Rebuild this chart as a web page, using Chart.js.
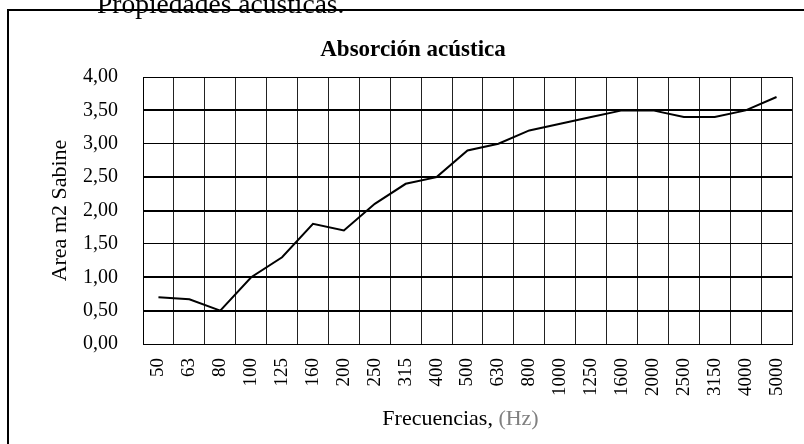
<!DOCTYPE html>
<html>
<head>
<meta charset="utf-8">
<script src="https://cdn.jsdelivr.net/npm/chart.js@4.4.1/dist/chart.umd.min.js"></script>
<style>
  html, body { margin: 0; padding: 0; background: #fff; overflow: hidden; }
  body { width: 804px; height: 444px; position: relative; }
  #frame { position: absolute; left: 7px; top: 9px; width: 900px; height: 500px; border: 2px solid #000; }
  #caption { position: absolute; left: 97px; top: -12px; font: 27.5px "Liberation Serif", serif; color: #000; white-space: nowrap; z-index: 2; }
  #chartBox { position: absolute; left: 9px; top: 11px; width: 808px; height: 433px; }
</style>
</head>
<body>
<div id="frame"></div>
<div id="caption">Propiedades acústicas.</div>
<div id="chartBox"><canvas id="absorcion" width="808" height="433"></canvas></div>
<script>
// frecuencias en Hz (bandas de tercio de octava)
const frecuencias = ["50", "63", "80", "100", "125", "160", "200", "250", "315", "400", "500",
    "630", "800", "1000", "1250", "1600", "2000", "2500", "3150", "4000", "5000"];
// area de absorcion equivalente, m2 Sabine
const areaSabine = [0.70, 0.67, 0.50, 1.00, 1.30, 1.80, 1.70, 2.10, 2.40, 2.50, 2.90,
    3.00, 3.20, 3.30, 3.40, 3.50, 3.50, 3.40, 3.40, 3.50, 3.70];
// lineas horizontales que salen mas gruesas en el original
const lineasGruesas = [0.5, 1.0, 2.0, 2.5, 3.5];

const serif = "'Liberation Serif', 'Times New Roman', serif";

// titulo centrado en todo el recuadro y titulo del eje X en dos colores
const textosPlugin = {
    id: "textos",
    afterDraw(chart) {
        const ctx = chart.ctx;
        const area = chart.chartArea;
        const xScale = chart.scales.x;
        ctx.save();
        ctx.textBaseline = "middle";

        ctx.font = "bold 23px " + serif;
        ctx.textAlign = "center";
        ctx.fillStyle = "#000";
        ctx.fillText("Absorción acústica", chart.width / 2, 39);

        const partA = "Frecuencias, ";
        const partB = "(Hz)";
        ctx.font = "22px " + serif;
        ctx.textAlign = "left";
        const wA = ctx.measureText(partA).width;
        const wB = ctx.measureText(partB).width;
        const x = (area.left + area.right) / 2 - 7 - (wA + wB) / 2;
        const y = xScale.bottom - 25;
        ctx.fillStyle = "#000";
        ctx.fillText(partA, x, y);
        ctx.fillStyle = "#808080";
        ctx.fillText(partB, x + wA, y);
        ctx.restore();
    }
};

const ctx = document.getElementById("absorcion").getContext("2d");
new Chart(ctx, {
    type: "line",
    data: {
        labels: frecuencias,
        datasets: [{
            label: "Area m2 Sabine",
            data: areaSabine,
            borderColor: "#000",
            backgroundColor: "#000",
            borderWidth: 2,
            pointRadius: 0,
            tension: 0,
            fill: false,
        }]
    },
    options: {
        responsive: false,
        animation: false,
        layout: { padding: { left: 0, right: 25, top: 66, bottom: 0 } },
        plugins: {
            legend: { display: false },
            tooltip: { enabled: false },
            title: { display: false },
        },
        scales: {
            x: {
                offset: true,
                grid: { offset: true, color: "#222", lineWidth: 1, drawTicks: false },
                border: { color: "#000", width: 1 },
                ticks: {
                    color: "#000",
                    font: { family: serif, size: 19 },
                    padding: 14,
                    maxRotation: 90,
                    minRotation: 90,
                    autoSkip: false,
                },
                afterFit(scale) { scale.height = 100; },
            },
            y: {
                min: 0,
                max: 4,
                grid: {
                    color: "#000",
                    drawTicks: false,
                    lineWidth: (c) => lineasGruesas.includes(c.tick ? c.tick.value : -1) ? 2 : 1,
                },
                border: { color: "#000", width: 1 },
                ticks: {
                    stepSize: 0.5,
                    color: "#000",
                    font: { family: serif, size: 20 },
                    padding: 25,
                    callback: (v) => v.toFixed(2).replace(".", ","),
                },
                title: {
                    display: true,
                    text: "Area m2 Sabine",
                    color: "#000",
                    font: { family: serif, size: 22, lineHeight: 1.2 },
                    padding: { top: 38, bottom: 0 },
                },
                afterFit(scale) { scale.width = 134; },
            }
        }
    },
    plugins: [textosPlugin]
});
</script>
</body>
</html>
